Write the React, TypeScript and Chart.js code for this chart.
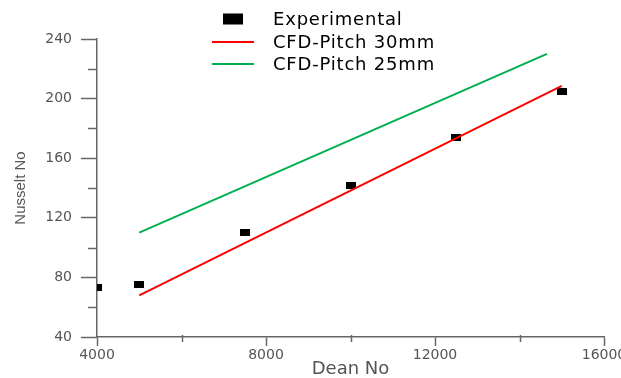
import { useEffect, useRef } from "react";
import { Chart, registerables } from "chart.js";

Chart.register(...registerables);

// ---- data ----
const deanExp = [4000, 5000, 7500, 10000, 12500, 15000];
const nuExp = [73, 75, 110, 142, 174, 205];
const deanPitch30 = [5000, 15000];
const nuPitch30 = [68, 208.5];
const deanPitch25 = [5000, 14650];
const nuPitch25 = [110, 230];

const xMajorTicks = [4000, 8000, 12000, 16000];
const xMinorTicks = [6000, 10000, 14000];
const yMajorTicks = [40, 80, 120, 160, 200, 240];
const yMinorTicks = [60, 100, 140, 180, 220];

const seriesLabels = ["Experimental", "CFD-Pitch 30mm", "CFD-Pitch 25mm"];
const xTitle = "Dean No";
const yTitle = "Nusselt No";

const AXIS_COLOR = "#666666";
const TEXT_COLOR = "#555555";

const minorTicksPlugin = {
  id: "minorTicks",
  afterDraw(chart: any) {
    const { ctx, scales } = chart;
    const x = scales.x;
    const y = scales.y;
    ctx.save();
    ctx.strokeStyle = AXIS_COLOR;
    ctx.lineWidth = 1.5;
    xMinorTicks.forEach((v) => {
      const px = Math.round(x.getPixelForValue(v)) + 0.5;
      ctx.beginPath();
      ctx.moveTo(px, x.top - 2);
      ctx.lineTo(px, x.top + 5);
      ctx.stroke();
    });
    yMinorTicks.forEach((v) => {
      const py = Math.round(y.getPixelForValue(v)) + 0.5;
      ctx.beginPath();
      ctx.moveTo(y.right - 9, py);
      ctx.lineTo(y.right, py);
      ctx.stroke();
    });
    ctx.restore();
  },
};

const customLegendPlugin = {
  id: "customLegend",
  afterDraw(chart: any) {
    const { ctx } = chart;
    const ds = chart.data.datasets;
    ctx.save();
    ctx.font = "18px 'DejaVu Sans'";
    (ctx as any).letterSpacing = "0.8px";
    ctx.fillStyle = "#000";
    ctx.textBaseline = "middle";
    ctx.textAlign = "left";
    const rows = [19, 42, 64];
    const textX = 273;
    ctx.fillRect(223, rows[0] - 5.5, 20, 11);
    ctx.fillText(ds[0].label, textX, rows[0] + 1);
    for (let i = 1; i < 3; i++) {
      ctx.strokeStyle = ds[i].borderColor;
      ctx.lineWidth = 2;
      ctx.beginPath();
      ctx.moveTo(212, rows[i]);
      ctx.lineTo(254, rows[i]);
      ctx.stroke();
      ctx.fillStyle = "#000";
      ctx.fillText(ds[i].label, textX, rows[i] + 1);
    }
    ctx.restore();
  },
};

export default function App() {
  const canvasRef = useRef<HTMLCanvasElement | null>(null);

  useEffect(() => {
    document.body.style.margin = "0";
    const canvas = canvasRef.current;
    if (!canvas) return;

    const marker = document.createElement("canvas");
    marker.width = 10;
    marker.height = 7;
    const mctx = marker.getContext("2d")!;
    mctx.fillStyle = "#000";
    mctx.fillRect(0, 0, 10, 7);

    const chart = new Chart(canvas, {
      type: "scatter",
      data: {
        datasets: [
          {
            label: seriesLabels[0],
            data: deanExp.map((d, i) => ({ x: d, y: nuExp[i] })),
            pointStyle: marker as any,
            pointRadius: 5,
            showLine: false,
            backgroundColor: "#000",
            borderColor: "#000",
            order: 3,
            clip: { left: 0, right: false, top: false, bottom: false } as any,
          },
          {
            label: seriesLabels[1],
            data: deanPitch30.map((d, i) => ({ x: d, y: nuPitch30[i] })),
            showLine: true,
            borderColor: "#ff0000",
            backgroundColor: "#ff0000",
            borderWidth: 2,
            pointRadius: 0,
            order: 1,
          },
          {
            label: seriesLabels[2],
            data: deanPitch25.map((d, i) => ({ x: d, y: nuPitch25[i] })),
            showLine: true,
            borderColor: "#00b050",
            backgroundColor: "#00b050",
            borderWidth: 2,
            pointRadius: 0,
            order: 2,
          },
        ],
      },
      options: {
        responsive: false,
        animation: false,
        layout: { padding: { left: 0, right: 17, top: 39, bottom: 0 } },
        plugins: {
          legend: { display: false },
          tooltip: { enabled: false },
        },
        scales: {
          x: {
            type: "linear",
            min: 4000,
            max: 16000,
            afterBuildTicks: (s: any) => {
              s.ticks = xMajorTicks.map((v) => ({ value: v }));
            },
            afterFit: (s: any) => {
              s.height = 41;
              s.paddingRight = 0;
              s.paddingLeft = 0;
            },
            border: { display: true, color: AXIS_COLOR, width: 1.5 },
            grid: {
              display: true,
              drawOnChartArea: false,
              drawTicks: true,
              tickLength: 9,
              tickColor: AXIS_COLOR,
              tickWidth: 1.5,
            },
            ticks: {
              color: TEXT_COLOR,
              padding: 2,
              maxRotation: 0,
              font: { family: "'DejaVu Sans'", size: 14, lineHeight: 1 },
              callback: (v: any) => String(v),
            },
            title: {
              display: true,
              text: xTitle,
              color: TEXT_COLOR,
              font: { family: "'DejaVu Sans'", size: 18, lineHeight: 1 },
              padding: { top: 0, bottom: 0 },
            },
          },
          y: {
            type: "linear",
            min: 40,
            max: 240,
            afterBuildTicks: (s: any) => {
              s.ticks = yMajorTicks.map((v) => ({ value: v }));
            },
            afterFit: (s: any) => {
              s.width = 97;
            },
            border: { display: true, color: AXIS_COLOR, width: 1.5 },
            grid: {
              display: true,
              drawOnChartArea: false,
              drawTicks: true,
              tickLength: 16,
              tickColor: AXIS_COLOR,
              tickWidth: 1.5,
            },
            ticks: {
              color: TEXT_COLOR,
              padding: 9,
              font: { family: "'DejaVu Sans'", size: 14, lineHeight: 1 },
              callback: (v: any) => String(v),
            },
            title: {
              display: true,
              text: yTitle,
              color: TEXT_COLOR,
              font: { family: "'Liberation Sans'", size: 15, lineHeight: 1 },
              padding: { top: 13, bottom: 0 },
            },
          },
        },
      },
      plugins: [minorTicksPlugin, customLegendPlugin],
    });

    return () => {
      chart.destroy();
    };
  }, []);

  return (
    <div style={{ width: 621, height: 378, background: "#fff" }}>
      <canvas ref={canvasRef} width={621} height={378} />
    </div>
  );
}
